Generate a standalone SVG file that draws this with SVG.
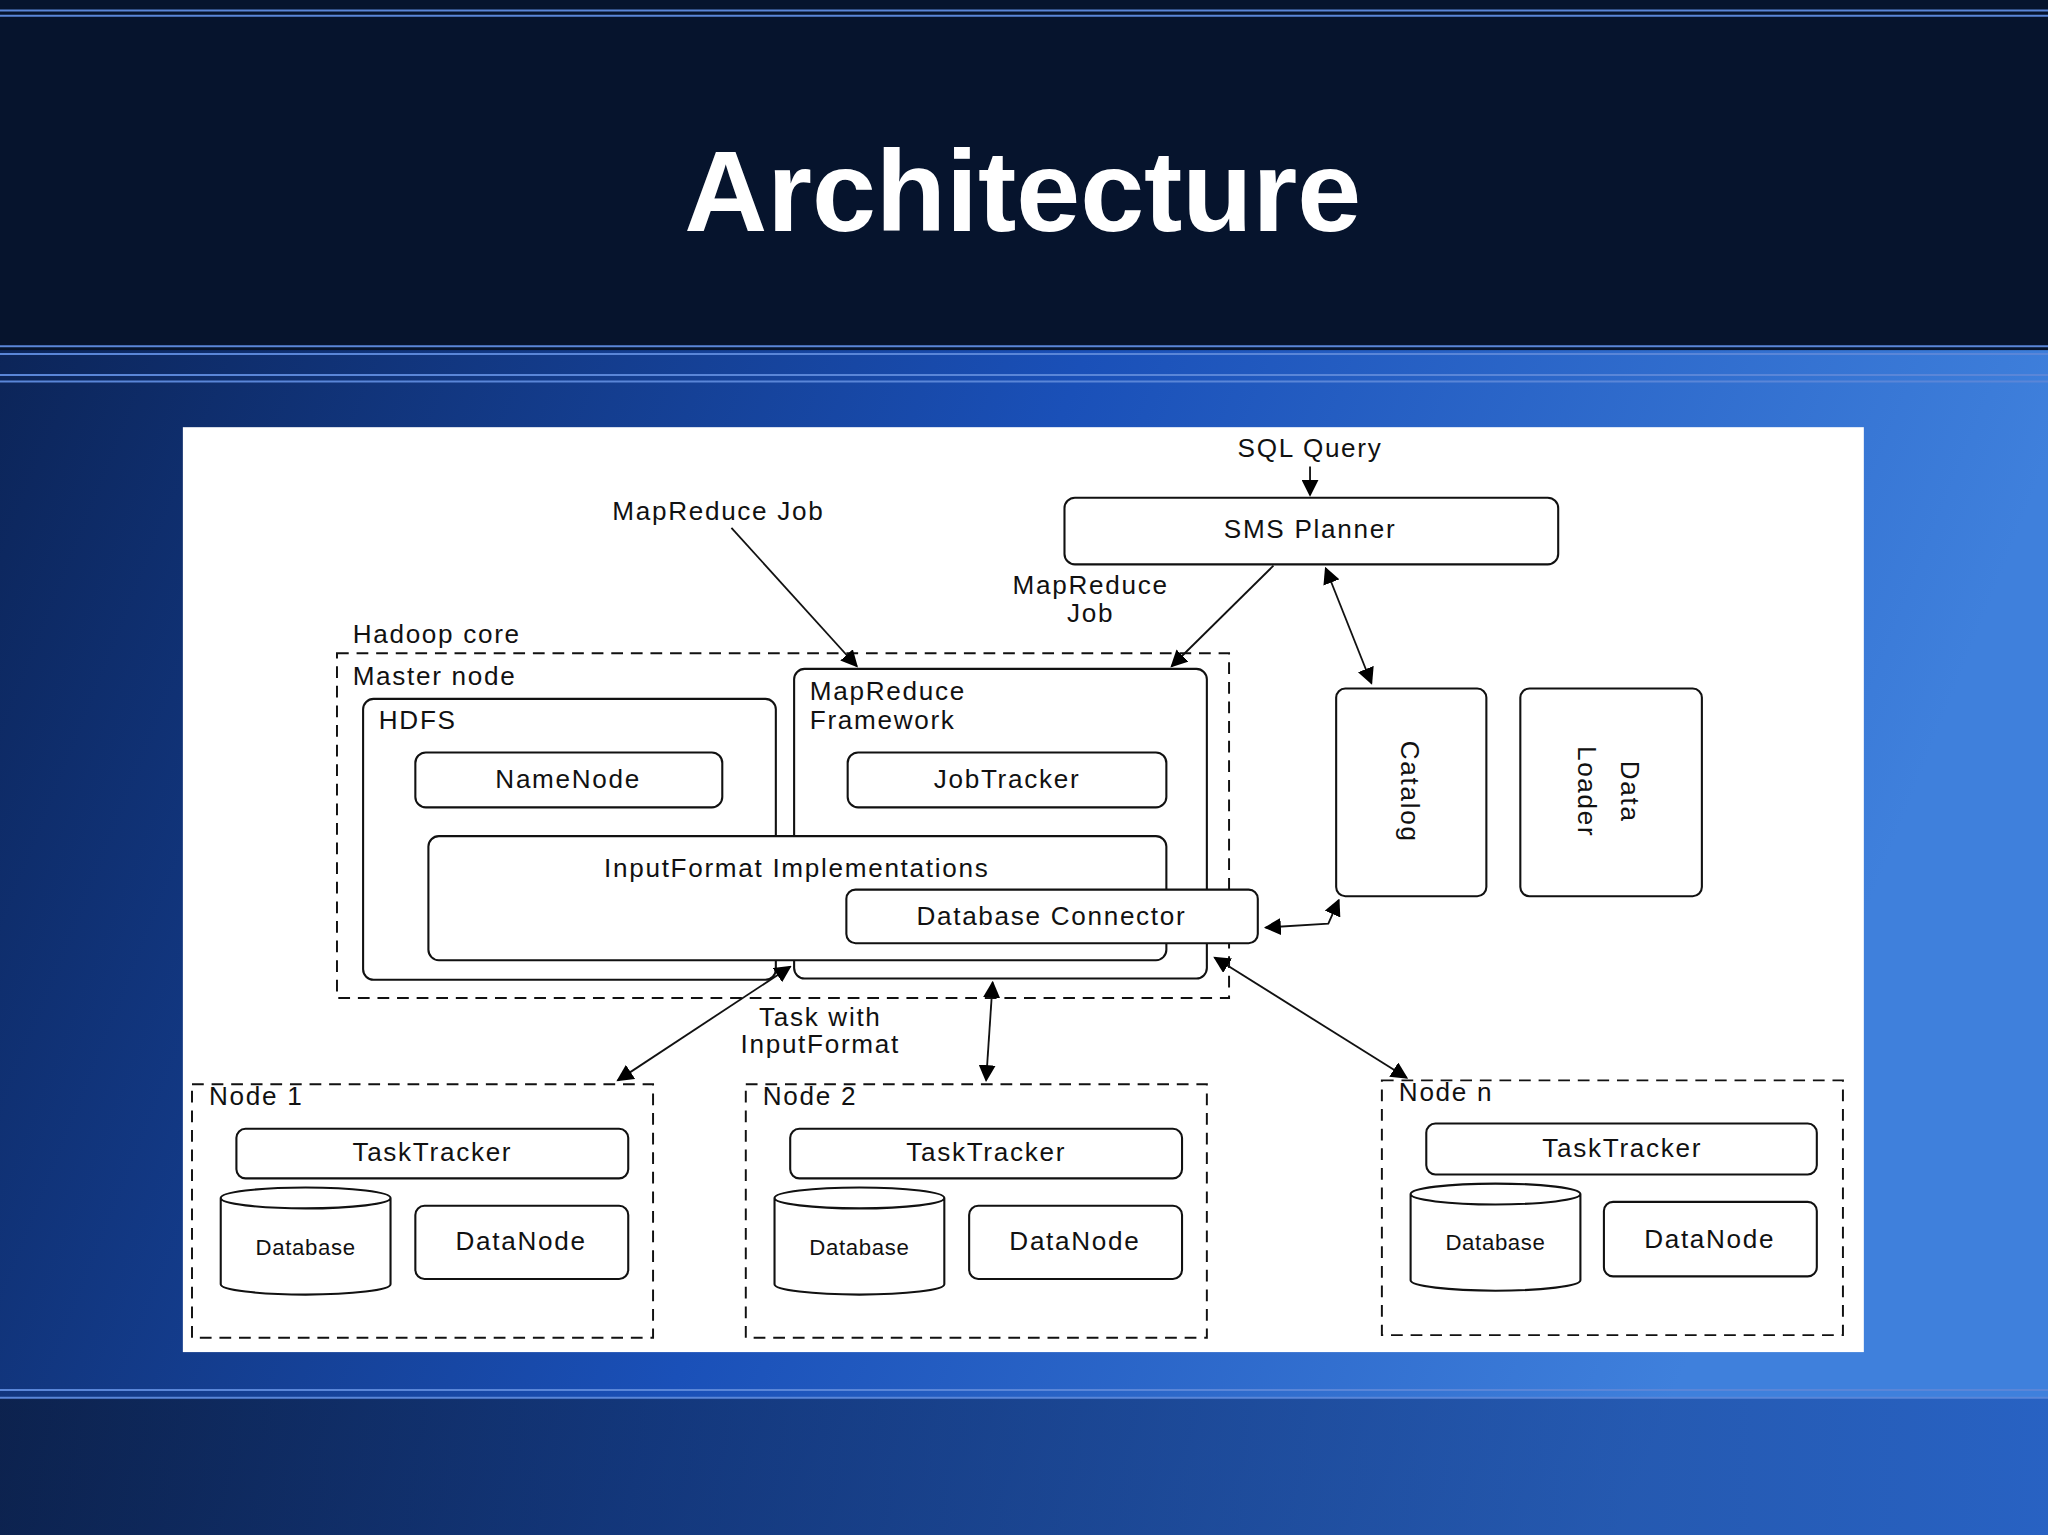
<svg xmlns="http://www.w3.org/2000/svg" width="2048" height="1535" viewBox="0 0 2048 1535">
<defs>
<linearGradient id="bg" x1="0" y1="0" x2="1" y2="0.3">
<stop offset="0" stop-color="#0a1f4c"/>
<stop offset="0.55" stop-color="#1a50b8"/>
<stop offset="1" stop-color="#3f80dc"/>
</linearGradient>
<linearGradient id="bot" x1="0" y1="0" x2="1" y2="0">
<stop offset="0" stop-color="#0a1a3a"/>
<stop offset="1" stop-color="#1e55b8"/>
</linearGradient>
<marker id="ah" viewBox="0 0 10 10" refX="9" refY="5" markerWidth="13" markerHeight="13" orient="auto-start-reverse" markerUnits="userSpaceOnUse">
<path d="M0,0 L10,5 L0,10 Z" fill="#000"/>
</marker>
<style>
text{font-family:"Liberation Sans",Arial,sans-serif;fill:#111;font-size:20px;letter-spacing:1.3px}
.b{fill:#fff;stroke:#111;stroke-width:1.6}
.d{fill:none;stroke:#111;stroke-width:1.5;stroke-dasharray:9,6}
.c{fill:none;stroke:#111;stroke-width:1.4}
.m{text-anchor:middle}
</style>
</defs>
<g transform="scale(1.30612,1.30638)">
<rect x="0" y="0" width="1568" height="1175" fill="url(#bg)"/>
<rect x="0" y="0" width="1568" height="268" fill="#06142d"/>
<rect x="0" y="1070" width="1568" height="105" fill="url(#bot)" opacity="0.7"/>
<g stroke="#5a86d8" stroke-width="1.5">
<line x1="0" y1="8" x2="1568" y2="8"/><line x1="0" y1="12" x2="1568" y2="12"/>
<line x1="0" y1="265" x2="1568" y2="265"/><line x1="0" y1="271" x2="1568" y2="271"/>
<line x1="0" y1="287" x2="1568" y2="287"/><line x1="0" y1="292" x2="1568" y2="292"/>
<line x1="0" y1="1064" x2="1568" y2="1064"/><line x1="0" y1="1070" x2="1568" y2="1070"/>
</g>
<text x="783" y="177" class="m" style="font-size:88px;font-weight:bold;fill:#fff;letter-spacing:0">Architecture</text>
<rect x="140" y="327" width="1287" height="708" fill="#fff"/>

<g id="sql"><text x="1003" y="350" class="m">SQL Query</text></g>
<g id="sms"><rect class="b" x="815" y="381" width="378" height="51" rx="8"/><text x="1003" y="412" class="m">SMS Planner</text></g>
<g id="mrjob"><text x="550" y="398" class="m">MapReduce Job</text></g>
<g id="mrjob2"><text x="835" y="455" class="m">MapReduce</text><text x="835" y="476" class="m">Job</text></g>
<g id="hadoop"><text x="270" y="492">Hadoop core</text><rect class="d" x="258" y="500" width="683" height="264"/><text x="270" y="524">Master node</text></g>
<g id="hdfs"><rect class="b" x="278" y="535" width="316" height="215" rx="8"/><text x="290" y="558">HDFS</text></g>
<g id="namenode"><rect class="b" x="318" y="576" width="235" height="42" rx="8"/><text x="435" y="603" class="m">NameNode</text></g>
<g id="mrf"><rect class="b" x="608" y="512" width="316" height="237" rx="8"/><text x="620" y="536">MapReduce</text><text x="620" y="558">Framework</text></g>
<g id="jobtracker"><rect class="b" x="649" y="576" width="244" height="42" rx="8"/><text x="771" y="603" class="m">JobTracker</text></g>
<g id="inputformat"><rect class="b" x="328" y="640" width="565" height="95" rx="8"/><text x="610" y="671" class="m">InputFormat Implementations</text></g>
<g id="dbconn"><rect class="b" x="648" y="681" width="315" height="41" rx="7"/><text x="805" y="708" class="m">Database Connector</text></g>
<g id="catalog"><rect class="b" x="1023" y="527" width="115" height="159" rx="7"/><text transform="translate(1073,606) rotate(90)" class="m">Catalog</text></g>
<g id="dataloader"><rect class="b" x="1164" y="527" width="139" height="159" rx="7"/><text transform="translate(1241,606) rotate(90)" class="m">Data</text><text transform="translate(1208,606) rotate(90)" class="m">Loader</text></g>
<g id="taskwith"><text x="628" y="785" class="m">Task with</text><text x="628" y="806" class="m">InputFormat</text></g>

<g id="node1"><rect class="d" x="147" y="830" width="353" height="194"/><text x="160" y="846">Node 1</text>
<rect class="b" x="181" y="864" width="300" height="38" rx="7"/><text x="331" y="889" class="m">TaskTracker</text>
<path class="b" d="M169,917 L169,983 A65,8 0 0 0 299,983 L299,917 A65,8 0 0 0 169,917 A65,8 0 0 0 299,917"/><text x="234" y="961" class="m" style="font-size:17px;letter-spacing:0.5px">Database</text>
<rect class="b" x="318" y="923" width="163" height="56" rx="7"/><text x="399" y="957" class="m">DataNode</text></g>
<g id="node2"><rect class="d" x="571" y="830" width="353" height="194"/><text x="584" y="846">Node 2</text>
<rect class="b" x="605" y="864" width="300" height="38" rx="7"/><text x="755" y="889" class="m">TaskTracker</text>
<path class="b" d="M593,917 L593,983 A65,8 0 0 0 723,983 L723,917 A65,8 0 0 0 593,917 A65,8 0 0 0 723,917"/><text x="658" y="961" class="m" style="font-size:17px;letter-spacing:0.5px">Database</text>
<rect class="b" x="742" y="923" width="163" height="56" rx="7"/><text x="823" y="957" class="m">DataNode</text></g>
<g id="noden"><rect class="d" x="1058" y="827" width="353" height="195"/><text x="1071" y="843">Node n</text>
<rect class="b" x="1092" y="860" width="299" height="39" rx="7"/><text x="1242" y="886" class="m">TaskTracker</text>
<path class="b" d="M1080,914 L1080,980 A65,8 0 0 0 1210,980 L1210,914 A65,8 0 0 0 1080,914 A65,8 0 0 0 1210,914"/><text x="1145" y="957" class="m" style="font-size:17px;letter-spacing:0.5px">Database</text>
<rect class="b" x="1228" y="920" width="163" height="57" rx="7"/><text x="1309" y="955" class="m">DataNode</text></g>

<g id="connectors" class="c">
<line class="c" x1="1003" y1="357" x2="1003" y2="379" marker-end="url(#ah)"/>
<line class="c" x1="560" y1="404" x2="656" y2="510" marker-end="url(#ah)"/>
<line class="c" x1="975" y1="433" x2="897" y2="510" marker-end="url(#ah)"/>
<line class="c" x1="1015" y1="435" x2="1050" y2="523" marker-start="url(#ah)" marker-end="url(#ah)"/>
<polyline class="c" points="1025,689 1017,707 969,710" marker-start="url(#ah)" marker-end="url(#ah)"/>
<line class="c" x1="605" y1="740" x2="473" y2="827" marker-start="url(#ah)" marker-end="url(#ah)"/>
<line class="c" x1="760" y1="752" x2="755" y2="827" marker-start="url(#ah)" marker-end="url(#ah)"/>
<line class="c" x1="930" y1="733" x2="1077" y2="825" marker-start="url(#ah)" marker-end="url(#ah)"/>
</g>
</g>
</svg>
